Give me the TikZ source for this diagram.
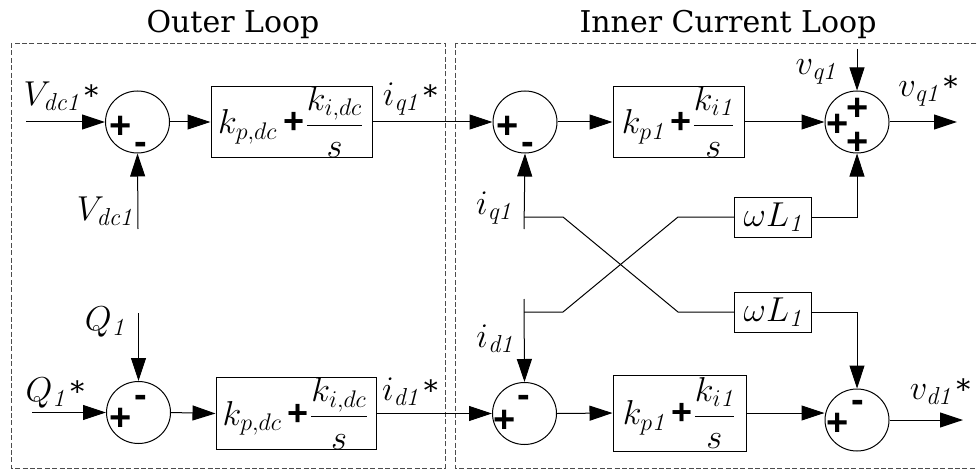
\documentclass[tikz,border=0pt]{standalone}
\usepackage{amsmath}
\usepackage{fontspec}
\usepackage{tikz}
\usetikzlibrary{positioning, arrows.meta, shapes.geometric, calc}
\newfontfamily\titlefont{DejaVu Serif}
\newfontfamily\signfont{Liberation Sans}
\newcommand{\pls}{\mbox{\signfont\bfseries\fontsize{18}{18}\selectfont\,+}}
\newcommand{\str}{\mbox{\titlefont\fontsize{14}{14}\selectfont\,*}}

\begin{document}
\begin{tikzpicture}[
      x=0.5pt, y=-0.5pt,
      font=\fontsize{17.5}{19}\selectfont,
      title/.style={font=\titlefont\fontsize{15}{17}\selectfont, anchor=base},
      frame/.style={draw=black!70, dashed, dash pattern=on 2.5pt off 1.2pt, line width=0.4pt},
      block/.style={draw, line width=0.5pt, minimum width=#1, inner sep=0pt, align=center},
      gain/.style={draw, line width=0.5pt, minimum width=38.5pt, minimum height=20pt, inner sep=0pt},
      sumj/.style={draw, ellipse, line width=0.5pt, minimum width=32pt, minimum height=31pt, inner sep=0pt},
      sgn/.style={font=\signfont\bfseries\fontsize{19}{19}\selectfont, inner ysep=0pt, inner xsep=-2pt, text height=12pt, text depth=0pt},
      lbl/.style={inner sep=0pt},
      arr/.style={-{Triangle[length=11.5pt, width=7.5pt]}, line width=0.5pt},
      wire/.style={line width=0.5pt}
    ]
    \useasboundingbox (0,0) rectangle (977,470);
    %% loop frames and titles
    \draw[frame] (11,43) rectangle (445,468);
    \draw[frame] (455,43) rectangle (990,468);
    \node[title] (ttlout) at (233,33) {Outer Loop};
    \node[title] (ttlin) at (728,33) {Inner Current Loop};
    %% outer loop, q axis
    \node[sumj] (s1) at (137.5,122) {};
    \node[block=80.5pt, minimum height=35pt] (pi1) at (291.5,122) {$k_{p,dc}\pls\dfrac{k_{i,dc}}{s}$};
    \coordinate (vref) at (26,122);
    \coordinate (vfb) at (138,229);
    \draw[arr] (vref) -- (s1.west);
    \draw[arr] (vfb) -- (s1.south);
    \draw[arr] (s1.east) -- (pi1.west);
    \node[lbl] at (61,96) {$V_{\mathit{dc1}}\str$};
    \node[lbl] at (105,211) {$V_{\mathit{dc1}}$};
    \node[sgn] at ($(s1)+(-17,5)$) {+};
    \node[sgn] at ($(s1)+(3,21)$) {-};
    %% outer loop, d axis
    \node[sumj] (s5) at (138.5,412.5) {};
    \node[block=80pt, minimum height=34.5pt] (pi5) at (296,413.5) {$k_{p,dc}\pls\dfrac{k_{i,dc}}{s}$};
    \coordinate (qref) at (32,412.5);
    \coordinate (qfb) at (138.5,313);
    \draw[arr] (qref) -- (s5.west);
    \draw[arr] (qfb) -- (s5.north);
    \draw[arr] (s5.east) -- (pi5.west);
    \node[lbl] at (55,393) {$Q_{\mathit{1}}\str$};
    \node[lbl] at (105,322) {$Q_{\mathit{1}}$};
    \node[sgn] at ($(s5)+(-18,5.5)$) {+};
    \node[sgn] at ($(s5)+(2,-17.5)$) {-};
    %% inner loop, q axis
    \node[sumj] (s2) at (525,122) {};
    \node[block=65.5pt, minimum height=35pt] (pi2) at (678.5,122) {$k_{p\mathit{1}}\pls\dfrac{k_{i\mathit{1}}}{s}$};
    \node[sumj] (s3) at (857,122) {};
    \coordinate (iqfb) at (524,229);
    \coordinate (vqff) at (857,49);
    \coordinate (vqout) at (957,122);
    \draw[arr] (pi1.east) -- (s2.west);
    \draw[arr] (iqfb) -- (s2.south);
    \draw[arr] (s2.east) -- (pi2.west);
    \draw[arr] (pi2.east) -- (s3.west);
    \draw[arr] (vqff) -- (s3.north);
    \draw[arr] (s3.east) -- (vqout);
    \node[lbl] at (410,99) {$i_{\mathit{q1}}\str$};
    \node[lbl] at (494,208) {$i_{\mathit{q1}}$};
    \node[lbl] at (816,72) {$v_{\mathit{q1}}$};
    \node[lbl] at (928,91) {$v_{\mathit{q1}}\str$};
    \node[sgn] at ($(s2)+(-17,5)$) {+};
    \node[sgn] at ($(s2)+(3,21)$) {-};
    \node[sgn] at ($(s3)+(1,-13)$) {+};
    \node[sgn] at ($(s3)+(-19,3)$) {+};
    \node[sgn] at ($(s3)+(1,21)$) {+};
    %% inner loop, d axis
    \node[sumj] (s4) at (524.5,413.5) {};
    \node[block=66.5pt, minimum height=38pt] (pi4) at (679.5,413) {$k_{p\mathit{1}}\pls\dfrac{k_{i\mathit{1}}}{s}$};
    \node[sumj] (s6) at (857,420) {};
    \coordinate (idfb) at (524,299);
    \coordinate (vdout) at (963,420);
    \draw[arr] (pi5.east) -- (s4.west);
    \draw[arr] (idfb) -- (s4.north);
    \draw[arr] (s4.east) -- (pi4.west);
    \draw[arr] (pi4.east) -- (pi4.east -| s6.west);
    \draw[arr] (s6.east) -- (vdout);
    \node[lbl] at (410,392) {$i_{\mathit{d1}}\str$};
    \node[lbl] at (495,339) {$i_{\mathit{d1}}$};
    \node[lbl] at (940,392) {$v_{\mathit{d1}}\str$};
    \node[sgn] at ($(s4)+(-19.5,6.5)$) {+};
    \node[sgn] at ($(s4)+(-1,-18.5)$) {-};
    \node[sgn] at ($(s6)+(-19,3)$) {+};
    \node[sgn] at ($(s6)+(1,-20)$) {-};
    %% cross coupling
    \node[gain] (wl1) at (773,217) {$\omega L_{\mathit{1}}$};
    \node[gain] (wl2) at (773,312) {$\omega L_{\mathit{1}}$};
    \coordinate (iqtap) at (524,217);
    \coordinate (idtap) at (524,312);
    \draw[wire] (iqtap) -- ++(39,0) -- (678,312) -- (wl2.west);
    \draw[wire] (idtap) -- ++(39,0) -- (678,217) -- (wl1.west);
    \draw[arr] (wl1.east) -| (s3.south);
    \draw[arr] (wl2.east) -| (s6.north);
  \end{tikzpicture}
\end{document}
